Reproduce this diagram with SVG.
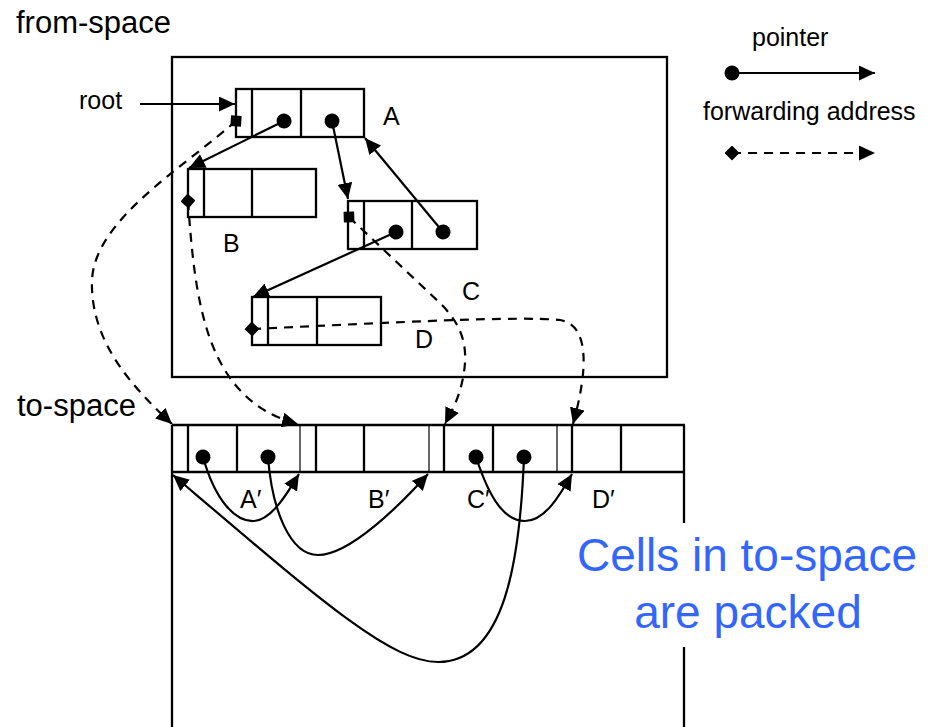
<svg xmlns="http://www.w3.org/2000/svg" width="929" height="727" viewBox="0 0 929 727">
  <style>
    .box { fill: none; stroke: #000; stroke-width: 2.3; }
    .thin { stroke: #000; stroke-width: 1.2; }
    .wall { stroke: #000; stroke-width: 2.3; }
    .ptr { fill: none; stroke: #000; stroke-width: 2.2; }
    .fwd { fill: none; stroke: #000; stroke-width: 2.2; stroke-dasharray: 9 7; }
    .lbl { font-family: "Liberation Sans", Arial, sans-serif; font-size: 25px; fill: #000; }
    .big { font-family: "Liberation Sans", Arial, sans-serif; font-size: 31px; fill: #000; }
    .note { font-family: "Liberation Sans", Arial, sans-serif; font-size: 46px; fill: #3366ff; text-anchor: middle; }
  </style>
  <defs>
    <marker id="arrow" markerUnits="userSpaceOnUse" markerWidth="17" markerHeight="15" refX="16" refY="7.5" orient="auto">
      <path d="M0,0 L16,7.5 L0,15 z" fill="#000"/>
    </marker>
    <marker id="dot" markerUnits="userSpaceOnUse" markerWidth="16" markerHeight="16" refX="8" refY="8" orient="auto">
      <circle cx="8" cy="8" r="7.5" fill="#000"/>
    </marker>
    <marker id="diamond" markerUnits="userSpaceOnUse" markerWidth="15" markerHeight="15" refX="7.5" refY="7.5" orient="auto">
      <path d="M0,7.5 L7.5,0 L15,7.5 L7.5,15 z" fill="#000"/>
    </marker>
  </defs>

  <rect width="929" height="727" fill="#fff"/>

  <!-- space captions -->
  <text class="big" x="16" y="33">from-space</text>
  <text class="big" x="17" y="416">to-space</text>

  <!-- from-space region -->
  <g id="from-space">
    <rect class="box" x="172" y="57" width="495" height="320"/>
  </g>

  <!-- cells in from-space -->
  <g id="cell-A">
    <rect class="box" x="236" y="89" width="128" height="48"/>
    <line class="wall" x1="252" y1="89" x2="252" y2="137"/>
    <line class="wall" x1="301" y1="89" x2="301" y2="137"/>
    <text class="lbl" x="383" y="125">A</text>
  </g>
  <g id="cell-B">
    <rect class="box" x="188" y="169" width="128" height="48"/>
    <line class="wall" x1="204" y1="169" x2="204" y2="217"/>
    <line class="wall" x1="252" y1="169" x2="252" y2="217"/>
    <text class="lbl" x="223" y="252">B</text>
  </g>
  <g id="cell-C">
    <rect class="box" x="348" y="201" width="129" height="48"/>
    <line class="wall" x1="364" y1="201" x2="364" y2="249"/>
    <line class="wall" x1="412" y1="201" x2="412" y2="249"/>
    <text class="lbl" x="462" y="300">C</text>
  </g>
  <g id="cell-D">
    <rect class="box" x="252" y="297" width="129" height="48"/>
    <line class="wall" x1="268" y1="297" x2="268" y2="345"/>
    <line class="wall" x1="317" y1="297" x2="317" y2="345"/>
    <text class="lbl" x="415" y="348">D</text>
  </g>

  <!-- to-space region and its packed cells -->
  <g id="to-space">
    <line class="wall" x1="172" y1="425" x2="685" y2="425"/>
    <line class="wall" x1="172" y1="472" x2="685" y2="472"/>
    <line class="wall" x1="172" y1="425" x2="172" y2="727"/>
    <line class="wall" x1="684" y1="425" x2="684" y2="523"/>
    <line class="wall" x1="684" y1="647" x2="684" y2="727"/>
  </g>
  <g id="cell-A-copy">
    <line class="wall" x1="188" y1="425" x2="188" y2="472"/>
    <line class="wall" x1="237" y1="425" x2="237" y2="472"/>
    <text class="lbl" x="240" y="508">A′</text>
  </g>
  <g id="cell-B-copy">
    <line class="thin" x1="300" y1="425" x2="300" y2="472"/>
    <line class="wall" x1="316" y1="425" x2="316" y2="472"/>
    <line class="wall" x1="364" y1="425" x2="364" y2="472"/>
    <text class="lbl" x="368" y="508">B′</text>
  </g>
  <g id="cell-C-copy">
    <line class="thin" x1="429" y1="425" x2="429" y2="472"/>
    <line class="wall" x1="444" y1="425" x2="444" y2="472"/>
    <line class="wall" x1="493" y1="425" x2="493" y2="472"/>
    <text class="lbl" x="467" y="508">C′</text>
  </g>
  <g id="cell-D-copy">
    <line class="thin" x1="557" y1="425" x2="557" y2="472"/>
    <line class="wall" x1="572" y1="425" x2="572" y2="472"/>
    <line class="wall" x1="621" y1="425" x2="621" y2="472"/>
    <text class="lbl" x="592" y="508">D′</text>
  </g>

  <!-- root label -->
  <g id="root">
    <text class="lbl" x="79" y="109">root</text>
  </g>

  <!-- legend -->
  <g id="legend">
    <text class="lbl" x="752" y="46">pointer</text>
    <path class="ptr" d="M732,73 L875,73" marker-start="url(#dot)" marker-end="url(#arrow)"/>
    <text class="lbl" x="703" y="120">forwarding address</text>
    <path class="fwd" d="M732,153 L875,153" marker-start="url(#diamond)" marker-end="url(#arrow)"/>
  </g>

  <!-- pointers and forwarding addresses -->
  <g id="connectors">
    <path class="ptr" d="M140,104 L235,104" marker-end="url(#arrow)"/>
    <path class="ptr" d="M284,121 L189,168" marker-start="url(#dot)" marker-end="url(#arrow)"/>
    <path class="ptr" d="M332,121 L348,199" marker-start="url(#dot)" marker-end="url(#arrow)"/>
    <path class="ptr" d="M443,232 L365,138" marker-start="url(#dot)" marker-end="url(#arrow)"/>
    <path class="ptr" d="M396,232 L253,297" marker-start="url(#dot)" marker-end="url(#arrow)"/>

    <path class="fwd" d="M236,121 C180,170 95,220 92,280 C90,340 130,385 172,424" marker-start="url(#diamond)" marker-end="url(#arrow)"/>
    <path class="fwd" d="M188,201 C195,300 205,400 298,424" marker-start="url(#diamond)" marker-end="url(#arrow)"/>
    <path class="fwd" d="M349,217 L440,303 C462,325 468,345 464,372 C460,398 452,410 445,424" marker-start="url(#diamond)" marker-end="url(#arrow)"/>
    <path class="fwd" d="M252,329 C400,322 520,316 560,320 C590,325 588,370 573,424" marker-start="url(#diamond)" marker-end="url(#arrow)"/>

    <path class="ptr" d="M203,457 C215,500 235,522 254,521 C272,520 288,492 299,474" marker-start="url(#dot)" marker-end="url(#arrow)"/>
    <path class="ptr" d="M268,457 C272,510 290,555 318,555 C350,555 400,505 428,474" marker-start="url(#dot)" marker-end="url(#arrow)"/>
    <path class="ptr" d="M476,457 C490,500 505,521 525,521 C545,521 560,495 572,474" marker-start="url(#dot)" marker-end="url(#arrow)"/>
    <path class="ptr" d="M524,457 C520,560 505,662 438,662 C390,662 320,600 173,475" marker-start="url(#dot)" marker-end="url(#arrow)"/>
  </g>

  <!-- caption -->
  <text class="note" x="747" y="571">Cells in to-space</text>
  <text class="note" x="748" y="628">are packed</text>
</svg>
